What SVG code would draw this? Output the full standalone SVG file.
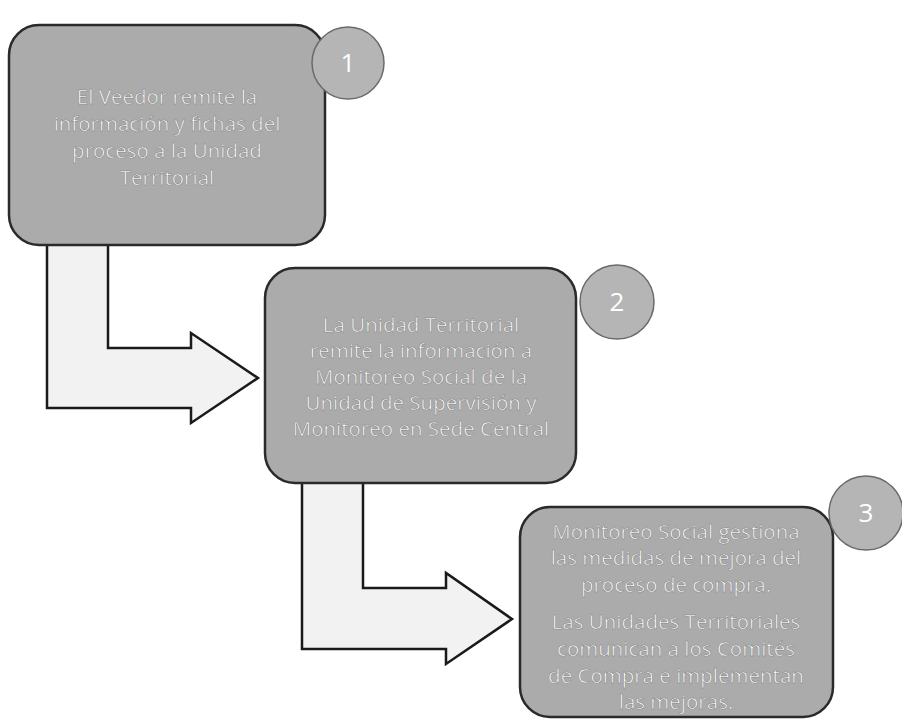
<svg xmlns="http://www.w3.org/2000/svg" width="902" height="720" viewBox="0 0 902 720">
<style>
.box{fill:#ababab;stroke:#2a2a2a;stroke-width:2.5}
.num{fill:#b5b5b5;stroke:#6a6a6a;stroke-width:1.5}
.arrow{fill:#f2f2f2;stroke:#1a1a1a;stroke-width:2.5;stroke-linejoin:miter}
.t{font-family:"Open Sans","Liberation Sans",sans-serif;font-size:20.5px;fill:#ffffff;text-anchor:middle;stroke:#7a7a7a;stroke-width:0.5}
.n{font-family:"Open Sans","Liberation Sans",sans-serif;font-size:26px;fill:#ffffff;text-anchor:middle}
</style>
<rect width="902" height="720" fill="#ffffff"/>
<g id="connectors">
<path class="arrow" d="M47,244 L108,244 L108,348 L191,348 L191,333 L258,378 L191,423 L191,408 L47,408 Z"/>
<path class="arrow" d="M302,482 L363,482 L363,588 L446,588 L446,573 L512,619 L446,664 L446,649 L302,649 Z"/>
</g>
<g id="node1">
<rect class="box" x="9" y="25" width="316" height="220" rx="30"/>
<circle class="num" cx="348" cy="63" r="36"/>
<text class="n" x="348" y="72">1</text>
<text class="t" x="167" y="104">El Veedor remite la</text>
<text class="t" x="167" y="131">información y fichas del</text>
<text class="t" x="167" y="158">proceso a la Unidad</text>
<text class="t" x="167" y="185">Territorial</text>
</g>
<g id="node2">
<rect class="box" x="265" y="268" width="311" height="215" rx="30"/>
<circle class="num" cx="617" cy="302" r="37"/>
<text class="n" x="617" y="311">2</text>
<text class="t" x="421" y="332">La Unidad Territorial</text>
<text class="t" x="421" y="358">remite la información a</text>
<text class="t" x="421" y="384">Monitoreo Social de la</text>
<text class="t" x="421" y="410">Unidad de Supervisión y</text>
<text class="t" x="421" y="436">Monitoreo en Sede Central</text>
</g>
<g id="node3">
<rect class="box" x="520" y="507" width="313" height="210" rx="30"/>
<circle class="num" cx="866" cy="513" r="37"/>
<text class="n" x="866" y="522">3</text>
<text class="t" x="676" y="539">Monitoreo Social gestiona</text>
<text class="t" x="676" y="565">las medidas de mejora del</text>
<text class="t" x="676" y="592">proceso de compra.</text>
<text class="t" x="676" y="629">Las Unidades Territoriales</text>
<text class="t" x="676" y="656">comunican a los Comités</text>
<text class="t" x="676" y="683">de Compra e implementan</text>
<text class="t" x="676" y="709">las mejoras.</text>
</g>
</svg>
